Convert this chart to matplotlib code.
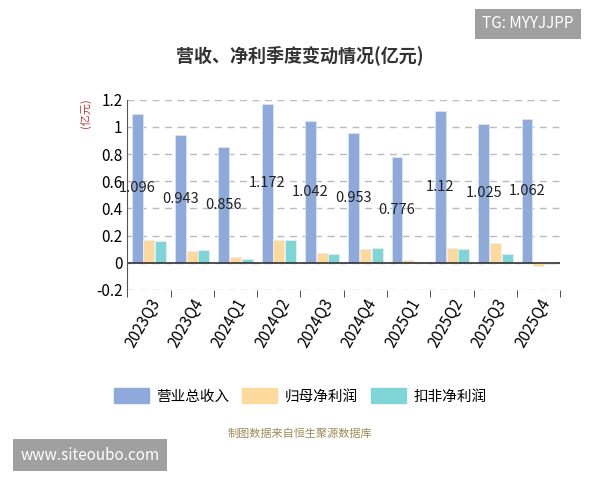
import numpy as np
import matplotlib.pyplot as plt
from matplotlib.patches import Patch

plt.rcParams['font.family'] = ['Noto Sans CJK SC', 'DejaVu Sans']

quarters = ['2023Q3', '2023Q4', '2024Q1', '2024Q2', '2024Q3', '2024Q4',
            '2025Q1', '2025Q2', '2025Q3', '2025Q4']
revenue = [1.096, 0.943, 0.856, 1.172, 1.042, 0.953, 0.776, 1.12, 1.025, 1.062]
net_profit = [0.17, 0.09, 0.04, 0.165, 0.07, 0.105, 0.02, 0.11, 0.145, -0.025]
deducted_profit = [0.16, 0.095, 0.03, 0.165, 0.065, 0.11, 0.003, 0.105, 0.065, -0.01]

c_rev = '#8eaadb'
c_net = '#fdd99b'
c_ded = '#7fd5d6'

fig = plt.figure(figsize=(6, 4.8), dpi=100)
ax = fig.add_axes([0.212, 0.396, 0.722, 0.396])

x = np.arange(len(quarters))
w = 0.25
ax.bar(x - w - 0.02, revenue, w, color=c_rev, edgecolor='#dde4f0', linewidth=0.6)
ax.bar(x, net_profit, w, color=c_net, edgecolor='#eee', linewidth=0.6)
ax.bar(x + w + 0.02, deducted_profit, w, color=c_ded, edgecolor='#e0f0f0', linewidth=0.6)
for xi, v in zip(x, revenue):
    ax.text(xi - w - 0.02, v / 2, str(v), ha='center', va='center', fontsize=10.5, color='#222')

ax.set_xlim(-0.5, len(quarters) - 0.5)
ax.set_ylim(-0.2, 1.2)
ax.set_yticks([-0.2, 0, 0.2, 0.4, 0.6, 0.8, 1, 1.2])
ax.set_yticklabels(['-0.2', '0', '0.2', '0.4', '0.6', '0.8', '1', '1.2'])
ax.set_xticks(np.arange(len(quarters) + 1) - 0.5, minor=True)
ax.set_xticks(x)
ax.set_xticklabels(quarters, rotation=60, ha='right', rotation_mode='anchor', fontsize=11)
ax.tick_params(axis='x', which='major', length=0, pad=4)
ax.tick_params(axis='x', which='minor', length=5, color='#333')
ax.tick_params(axis='y', length=0, labelsize=11)
ax.grid(axis='y', linestyle=(0, (5, 4)), color='#bbbbbb', linewidth=1)
ax.set_axisbelow(True)
for s in ['top', 'right', 'bottom']:
    ax.spines[s].set_visible(False)
ax.spines['left'].set_color('#555')
ax.axhline(0, color='#333', linewidth=1.2)

fig.text(0.143, 0.765, '(亿元)', rotation=90, color='#c23531', fontsize=8, ha='center', va='center')
fig.text(0.5, 0.885, '营收、净利季度变动情况(亿元)', ha='center', va='center', fontsize=13,
         fontweight='bold', color='#333')

handles = [Patch(color=c_rev), Patch(color=c_net), Patch(color=c_ded)]
fig.legend(handles, ['营业总收入', '归母净利润', '扣非净利润'], loc='center',
           bbox_to_anchor=(0.5, 0.175), ncol=3, frameon=False, fontsize=10.5,
           handlelength=2.4, handleheight=1.2, columnspacing=0.9, handletextpad=0.5)
fig.text(0.5, 0.097, '制图数据来自恒生聚源数据库', ha='center', va='center', fontsize=8, color='#a08a5a')

fig.text(0.88, 0.95, 'TG: MYYJJPP', ha='center', va='center', fontsize=11, color='white',
         bbox=dict(boxstyle='square,pad=0.45', facecolor='#a0a0a0', edgecolor='none'))
fig.text(0.15, 0.052, 'www.siteoubo.com', ha='center', va='center', fontsize=11, color='white',
         bbox=dict(boxstyle='square,pad=0.5', facecolor='#a0a0a0', edgecolor='none'))

fig.savefig('out.png', dpi=100)
